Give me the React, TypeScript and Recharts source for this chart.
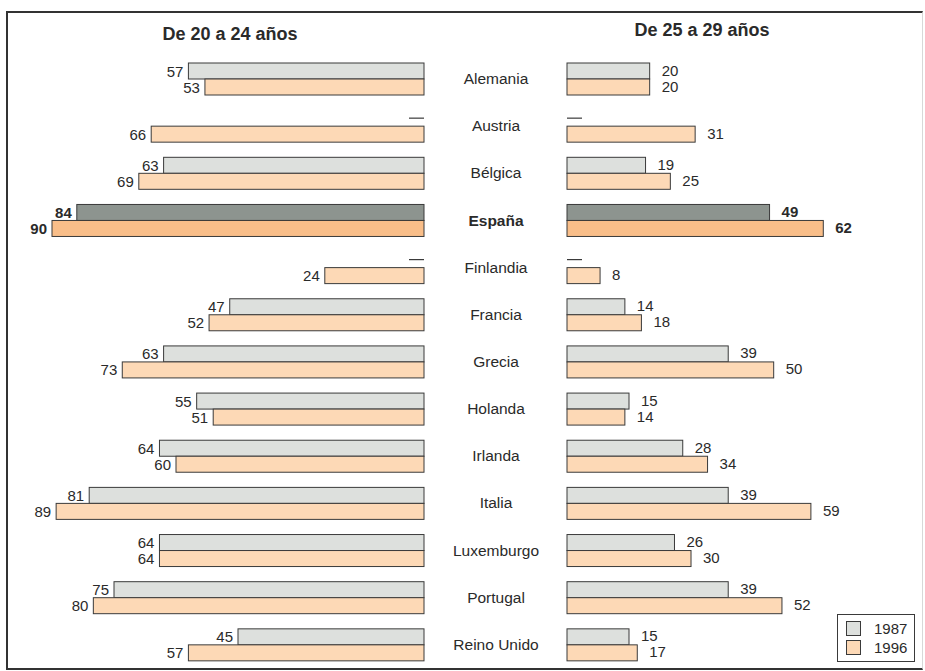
import React from 'react';
import { BarChart, Bar, XAxis, YAxis, Cell, LabelList } from 'recharts';

const countries = ['Alemania', 'Austria', 'Bélgica', 'España', 'Finlandia', 'Francia', 'Grecia', 'Holanda', 'Irlanda', 'Italia', 'Luxemburgo', 'Portugal', 'Reino Unido'];
const young1987 = [57, null, 63, 84, null, 47, 63, 55, 64, 81, 64, 75, 45];
const young1996 = [53, 66, 69, 90, 24, 52, 73, 51, 60, 89, 64, 80, 57];
const older1987 = [20, null, 19, 49, null, 14, 39, 15, 28, 39, 26, 39, 15];
const older1996 = [20, 31, 25, 62, 8, 18, 50, 14, 34, 59, 30, 52, 17];
const titles = ['De 20 a 24 años', 'De 25 a 29 años'];
const years = ['1987', '1996'];
const highlight = 'España';

const FONT = '"Liberation Sans", Arial, Helvetica, sans-serif';
const TEXT = '#2a2a2a';
const GRAY = '#dde0dd';
const ORANGE = '#fdd9b6';
const GRAY_DARK = '#8d948f';
const ORANGE_DARK = '#f9be89';
const STROKE = '#3a3a3a';

const build = (a: (number | null)[], b: (number | null)[]) =>
  countries.map((name, i) => ({
    name,
    v87: a[i] ?? 0,
    v96: b[i] ?? 0,
    miss87: a[i] === null,
    miss96: b[i] === null,
  }));
const youngData = build(young1987, young1996);
const olderData = build(older1987, older1996);

const W = 925;
const H = 671;
const MARGIN_TOP = 55;
const MARGIN_BOTTOM = 3;

const makeShape = (side: 'left' | 'right', key: 'miss87' | 'miss96') => (props: any) => {
  const { x, y, width, height, fill, payload } = props;
  const left = Math.min(x, x + width);
  const w = Math.abs(width);
  if (payload && payload[key]) {
    const cy = y + height / 2;
    const x0 = side === 'left' ? x - 15 : x;
    return <line x1={x0} x2={x0 + 15} y1={cy} y2={cy} stroke={STROKE} strokeWidth={1.2} />;
  }
  return <rect x={left} y={y} width={w} height={height} fill={fill} stroke={STROKE} strokeWidth={1} />;
};

const labelKey = (v: 'v87' | 'v96', m: 'miss87' | 'miss96') => (d: any) =>
  d[m] ? null : { v: d[v], bold: d.name === highlight };

const makeLabel = (side: 'left' | 'right') => (props: any) => {
  const vb = props.viewBox || props;
  const x = vb.x ?? props.x;
  const y = vb.y ?? props.y;
  const width = vb.width ?? props.width;
  const height = vb.height ?? props.height;
  const { value } = props;
  if (value === null || value === undefined || typeof value !== 'object') return null;
  const bold = value.bold;
  const lo = Math.min(x, x + width);
  const hi = Math.max(x, x + width);
  const cy = y + height / 2;
  if (side === 'left') {
    return (
      <text x={lo - 5} y={cy} textAnchor="end" dominantBaseline="central" fontFamily={FONT} fontSize={15} fontWeight={bold ? 700 : 400} fill={TEXT}>
        {value.v}
      </text>
    );
  }
  return (
    <text x={hi + 12} y={cy - 1} textAnchor="start" dominantBaseline="central" fontFamily={FONT} fontSize={15} fontWeight={bold ? 700 : 400} fill={TEXT}>
      {value.v}
    </text>
  );
};

const CountryTick = (props: any) => {
  const { x, y, payload } = props;
  const bold = payload.value === highlight;
  return (
    <text x={x - 71} y={y} textAnchor="middle" dominantBaseline="central" fontFamily={FONT} fontSize={15.5} fontWeight={bold ? 700 : 400} fill={TEXT}>
      {payload.value}
    </text>
  );
};

const legendItems = [
  { label: years[0], color: GRAY },
  { label: years[1], color: ORANGE },
];

export default function App() {
  return (
    <div style={{ position: 'absolute', left: 0, top: 0, width: W, height: H, background: '#fff', overflow: 'hidden' }}>
      <div style={{ position: 'absolute', left: 6, top: 11, width: 914, height: 655, borderTop: '2px solid #333', borderLeft: '2px solid #333', borderBottom: '2px solid #333', borderRight: '1px solid #d8d8d8' }} />
      <div style={{ position: 'absolute', left: 110, top: 24, width: 240, textAlign: 'center', fontFamily: FONT, fontSize: 18, fontWeight: 700, color: TEXT }}>{titles[0]}</div>
      <div style={{ position: 'absolute', left: 582, top: 20, width: 240, textAlign: 'center', fontFamily: FONT, fontSize: 18, fontWeight: 700, color: TEXT }}>{titles[1]}</div>

      <div style={{ position: 'absolute', left: 0, top: 0 }}>
        <BarChart width={W} height={H} data={youngData} layout="vertical" barGap={0} barSize={16}
          margin={{ top: MARGIN_TOP, bottom: MARGIN_BOTTOM, left: 52, right: W - 424 }}>
          <XAxis type="number" domain={[0, 90]} reversed hide />
          <YAxis type="category" dataKey="name" hide />
          <Bar dataKey="v87" name={years[0]} fill={GRAY} isAnimationActive={false} shape={makeShape('left', 'miss87')}>
            {youngData.map((d, i) => <Cell key={i} fill={d.name === highlight ? GRAY_DARK : GRAY} />)}
            <LabelList dataKey={labelKey('v87', 'miss87')} content={makeLabel('left')} />
          </Bar>
          <Bar dataKey="v96" name={years[1]} fill={ORANGE} isAnimationActive={false} shape={makeShape('left', 'miss96')}>
            {youngData.map((d, i) => <Cell key={i} fill={d.name === highlight ? ORANGE_DARK : ORANGE} />)}
            <LabelList dataKey={labelKey('v96', 'miss96')} content={makeLabel('left')} />
          </Bar>
        </BarChart>
      </div>

      <div style={{ position: 'absolute', left: 0, top: 0 }}>
        <BarChart width={W} height={H} data={olderData} layout="vertical" barGap={0} barSize={16}
          margin={{ top: MARGIN_TOP, bottom: MARGIN_BOTTOM, left: 420, right: W - 567 - 330.7 }}>
          <XAxis type="number" domain={[0, 80]} hide />
          <YAxis type="category" dataKey="name" width={147} axisLine={false} tickLine={false} tickSize={0} tickMargin={0} tick={<CountryTick />} interval={0} />
          <Bar dataKey="v87" name={years[0]} fill={GRAY} isAnimationActive={false} shape={makeShape('right', 'miss87')}>
            {olderData.map((d, i) => <Cell key={i} fill={d.name === highlight ? GRAY_DARK : GRAY} />)}
            <LabelList dataKey={labelKey('v87', 'miss87')} content={makeLabel('right')} />
          </Bar>
          <Bar dataKey="v96" name={years[1]} fill={ORANGE} isAnimationActive={false} shape={makeShape('right', 'miss96')}>
            {olderData.map((d, i) => <Cell key={i} fill={d.name === highlight ? ORANGE_DARK : ORANGE} />)}
            <LabelList dataKey={labelKey('v96', 'miss96')} content={makeLabel('right')} />
          </Bar>
        </BarChart>
      </div>

      <div style={{ position: 'absolute', left: 837, top: 614, width: 78, height: 48, border: `1px solid ${STROKE}`, background: '#fff', padding: '4px 0 0 8px', boxSizing: 'border-box' }}>
        {legendItems.map((it, i) => (
          <div key={i} style={{ display: 'flex', alignItems: 'center', height: 19, fontFamily: FONT, fontSize: 15, color: TEXT }}>
            <span style={{ display: 'inline-block', width: 13, height: 13, background: it.color, border: `1px solid ${STROKE}`, marginRight: 13 }} />
            {it.label}
          </div>
        ))}
      </div>
    </div>
  );
}
